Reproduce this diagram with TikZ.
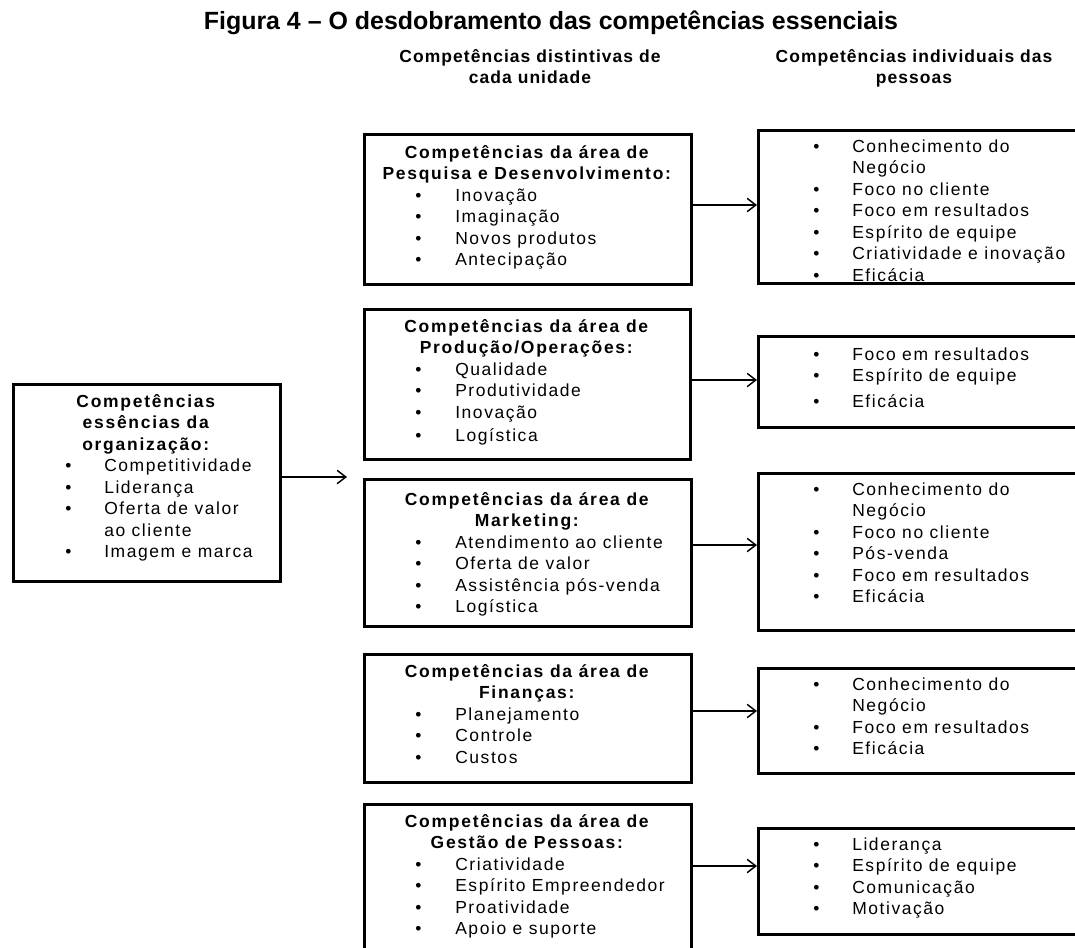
\documentclass[tikz,border=0pt]{standalone}
\usepackage{fontspec}
\setmainfont{Liberation Sans}[LetterSpace=9, BoldFeatures={LetterSpace=10}]
\newfontfamily\titlefont{Liberation Sans}
\newfontfamily\colfont{Liberation Sans}[LetterSpace=6]
\usetikzlibrary{arrows.meta}

% list layout inside the boxes
\newlength\bulx
\newlength\txtx
\newcommand\bhead[1]{\par{\centering\bfseries #1\par}}
\newcommand\bitem[1]{\par\noindent\hspace*{\bulx}\makebox[\dimexpr\txtx-\bulx\relax][l]{\textbullet}#1}
\newcommand\bcont[1]{\par\noindent\hspace*{\txtx}#1}
\newcommand\boxtext[4]{% width, bullet offset, text offset, body
  \parbox[t]{#1}{\setlength\bulx{#2}\setlength\txtx{#3}%
    \fontsize{13.1pt}{16.1pt}\selectfont\parindent=0pt #4}}
\newcommand\colhead[1]{% centred two-line column heading
  \parbox[t]{250pt}{\centering\colfont\bfseries\fontsize{13.1pt}{15.75pt}\selectfont #1}}

\tikzset{
  box/.style={draw, line width=2.1pt, rectangle, inner sep=0pt, anchor=north west},
  content/.style={anchor=base west, inner sep=0pt},
  arr/.style={line width=1.1pt, -{Straight Barb[length=6.5pt,width=10pt]}},
  caption/.style={inner sep=0pt, anchor=base, font=\titlefont\bfseries\fontsize{18.7pt}{22pt}\selectfont},
  colhd/.style={inner sep=0pt, anchor=base}
}

\begin{document}
\begin{tikzpicture}[x=0.75pt, y=-0.75pt]
\useasboundingbox (0,0) rectangle (1075,947);

% titles
\node[caption] (title) at (551,29) {Figura 4 – O desdobramento das competências essenciais};
\node[colhd] (hmid) at (530,62) {\colhead{Competências distintivas de\\cada unidade}};
\node[colhd] (hright) at (914,62) {\colhead{Competências individuais das\\pessoas}};

% core competences of the organisation
\node[box, minimum width=200.25pt, minimum height=147.75pt] (org) at (12,383) {};
\node[content] (orgt) at (12,407.5) {\boxtext{200.25pt}{39.75pt}{69pt}{%
  \bhead{Competências\\essências da\\organização:}
  \bitem{Competitividade}
  \bitem{Liderança}
  \bitem{Oferta de valor}
  \bcont{ao cliente}
  \bitem{Imagem e marca}}};
\coordinate (orgend) at (347,477);
\draw[arr] (org.east |- orgend) -- (orgend);

% distinctive competences of each unit
\node[box, minimum width=245.25pt, minimum height=112.5pt] (pd) at (363,133) {};
\node[content] (pdt) at (363,158.5) {\boxtext{245.25pt}{39pt}{69pt}{%
  \bhead{Competências da área de\\Pesquisa e Desenvolvimento:}
  \bitem{Inovação}
  \bitem{Imaginação}
  \bitem{Novos produtos}
  \bitem{Antecipação}}};

\node[box, minimum width=244.5pt, minimum height=112.5pt] (po) at (363,308) {};
\node[content] (pot) at (363,332.5) {\boxtext{244.5pt}{39pt}{69pt}{%
  \bhead{Competências da área de\\Produção/Operações:}
  \bitem{Qualidade}
  \bitem{Produtividade}
  \bitem{Inovação}\vspace{1.5pt}
  \bitem{Logística}}};

\node[box, minimum width=245.25pt, minimum height=110.25pt] (mk) at (363,478) {};
\node[content] (mkt) at (363,505.5) {\boxtext{245.25pt}{39pt}{69pt}{%
  \bhead{Competências da área de\\Marketing:}
  \bitem{Atendimento ao cliente}
  \bitem{Oferta de valor}
  \bitem{Assistência pós-venda}
  \bitem{Logística}}};

\node[box, minimum width=245.25pt, minimum height=96pt] (fi) at (363,653) {};
\node[content] (fit) at (363,677.5) {\boxtext{245.25pt}{39pt}{69pt}{%
  \bhead{Competências da área de\\Finanças:}
  \bitem{Planejamento}
  \bitem{Controle}
  \bitem{Custos}}};

\node[box, minimum width=245.25pt, minimum height=132.75pt] (gp) at (363,803) {};
\node[content] (gpt) at (363,827.5) {\boxtext{245.25pt}{39pt}{69pt}{%
  \bhead{Competências da área de\\Gestão de Pessoas:}
  \bitem{Criatividade}
  \bitem{Espírito Empreendedor}
  \bitem{Proatividade}
  \bitem{Apoio e suporte}}};

% individual competences of people
\node[box, minimum width=249.75pt, minimum height=114.75pt] (r1) at (757,129) {};
\node[content] (r1t) at (757,152.5) {\boxtext{249.75pt}{42pt}{71.25pt}{%
  \bitem{Conhecimento do}
  \bcont{Negócio}
  \bitem{Foco no cliente}
  \bitem{Foco em resultados}
  \bitem{Espírito de equipe}
  \bitem{Criatividade e inovação}
  \bitem{Eficácia}}};

\node[box, minimum width=249.75pt, minimum height=68.25pt] (r2) at (757,335) {};
\node[content] (r2t) at (757,360.5) {\boxtext{249.75pt}{42pt}{71.25pt}{%
  \bitem{Foco em resultados}
  \bitem{Espírito de equipe}\vspace{3pt}
  \bitem{Eficácia}}};

\node[box, minimum width=249.75pt, minimum height=117.75pt] (r3) at (757,472) {};
\node[content] (r3t) at (757,495.5) {\boxtext{249.75pt}{42pt}{71.25pt}{%
  \bitem{Conhecimento do}
  \bcont{Negócio}
  \bitem{Foco no cliente}
  \bitem{Pós-venda}
  \bitem{Foco em resultados}
  \bitem{Eficácia}}};

\node[box, minimum width=249.75pt, minimum height=78.75pt] (r4) at (757,667) {};
\node[content] (r4t) at (757,690.5) {\boxtext{249.75pt}{42pt}{71.25pt}{%
  \bitem{Conhecimento do}
  \bcont{Negócio}
  \bitem{Foco em resultados}
  \bitem{Eficácia}}};

\node[box, minimum width=249.75pt, minimum height=79.5pt] (r5) at (757,827) {};
\node[content] (r5t) at (757,850.5) {\boxtext{249.75pt}{42pt}{71.25pt}{%
  \bitem{Liderança}
  \bitem{Espírito de equipe}
  \bitem{Comunicação}
  \bitem{Motivação}}};

% unit -> people connectors
\draw[arr] (pd.east |- 0,205) -- (r1.west |- 0,205);
\draw[arr] (po.east |- 0,380) -- (r2.west |- 0,380);
\draw[arr] (mk.east |- 0,545) -- (r3.west |- 0,545);
\draw[arr] (fi.east |- 0,711) -- (r4.west |- 0,711);
\draw[arr] (gp.east |- 0,866) -- (r5.west |- 0,866);
\end{tikzpicture}
\end{document}
